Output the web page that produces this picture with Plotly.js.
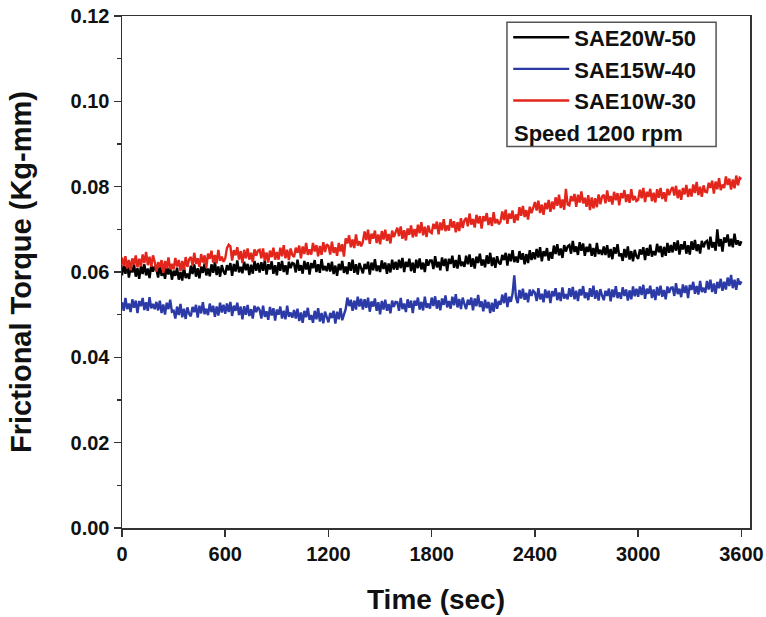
<!DOCTYPE html>
<html>
<head>
<meta charset="utf-8">
<script src="https://cdn.plot.ly/plotly-3.0.1.min.js"></script>
<style>html,body{margin:0;padding:0;background:#fff;}#chart{width:766px;height:617px;}</style>
</head>
<body>
<div id="chart"></div>
<script>
// Sample times (sec), every 10 s
const timeSec = [
0,10,20,30,40,50,60,70,80,90,100,110,120,130,140,150,160,170,180,190,
200,210,220,230,240,250,260,270,280,290,300,310,320,330,340,350,360,370,380,390,
400,410,420,430,440,450,460,470,480,490,500,510,520,530,540,550,560,570,580,590,
600,610,620,630,640,650,660,670,680,690,700,710,720,730,740,750,760,770,780,790,
800,810,820,830,840,850,860,870,880,890,900,910,920,930,940,950,960,970,980,990,
1000,1010,1020,1030,1040,1050,1060,1070,1080,1090,1100,1110,1120,1130,1140,1150,1160,1170,1180,1190,
1200,1210,1220,1230,1240,1250,1260,1270,1280,1290,1300,1310,1320,1330,1340,1350,1360,1370,1380,1390,
1400,1410,1420,1430,1440,1450,1460,1470,1480,1490,1500,1510,1520,1530,1540,1550,1560,1570,1580,1590,
1600,1610,1620,1630,1640,1650,1660,1670,1680,1690,1700,1710,1720,1730,1740,1750,1760,1770,1780,1790,
1800,1810,1820,1830,1840,1850,1860,1870,1880,1890,1900,1910,1920,1930,1940,1950,1960,1970,1980,1990,
2000,2010,2020,2030,2040,2050,2060,2070,2080,2090,2100,2110,2120,2130,2140,2150,2160,2170,2180,2190,
2200,2210,2220,2230,2240,2250,2260,2270,2280,2290,2300,2310,2320,2330,2340,2350,2360,2370,2380,2390,
2400,2410,2420,2430,2440,2450,2460,2470,2480,2490,2500,2510,2520,2530,2540,2550,2560,2570,2580,2590,
2600,2610,2620,2630,2640,2650,2660,2670,2680,2690,2700,2710,2720,2730,2740,2750,2760,2770,2780,2790,
2800,2810,2820,2830,2840,2850,2860,2870,2880,2890,2900,2910,2920,2930,2940,2950,2960,2970,2980,2990,
3000,3010,3020,3030,3040,3050,3060,3070,3080,3090,3100,3110,3120,3130,3140,3150,3160,3170,3180,3190,
3200,3210,3220,3230,3240,3250,3260,3270,3280,3290,3300,3310,3320,3330,3340,3350,3360,3370,3380,3390,
3400,3410,3420,3430,3440,3450,3460,3470,3480,3490,3500,3510,3520,3530,3540,3550,3560,3570,3580,3590,
3600];

// SAE20W-50 (black)
const sae20w50 = [
0.0592,0.0616,0.0596,0.0620,0.0587,0.0611,0.0599,0.0618,0.0589,0.0609,0.0584,0.0615,0.0595,0.0618,0.0592,0.0608,0.0586,0.0616,0.0601,0.0613,
0.0607,0.0587,0.0617,0.0591,0.0604,0.0584,0.0614,0.0594,0.0611,0.0582,0.0603,0.0591,0.0610,0.0582,0.0600,0.0580,0.0612,0.0586,0.0596,0.0584,
0.0615,0.0595,0.0618,0.0589,0.0609,0.0585,0.0613,0.0598,0.0620,0.0592,0.0608,0.0590,0.0618,0.0598,0.0624,0.0593,0.0613,0.0589,0.0616,0.0601,
0.0594,0.0616,0.0604,0.0621,0.0591,0.0619,0.0601,0.0627,0.0599,0.0612,0.0597,0.0624,0.0604,0.0619,0.0593,0.0617,0.0596,0.0626,0.0603,0.0621,
0.0599,0.0623,0.0603,0.0627,0.0594,0.0618,0.0606,0.0625,0.0596,0.0616,0.0592,0.0623,0.0603,0.0626,0.0600,0.0616,0.0594,0.0624,0.0609,0.0621,
0.0619,0.0599,0.0629,0.0603,0.0616,0.0596,0.0626,0.0606,0.0623,0.0594,0.0621,0.0609,0.0628,0.0600,0.0618,0.0598,0.0630,0.0604,0.0614,0.0602,
0.0621,0.0601,0.0624,0.0595,0.0615,0.0591,0.0619,0.0604,0.0626,0.0598,0.0613,0.0595,0.0623,0.0603,0.0629,0.0598,0.0618,0.0594,0.0621,0.0606,
0.0597,0.0619,0.0607,0.0624,0.0594,0.0622,0.0604,0.0630,0.0602,0.0615,0.0600,0.0627,0.0607,0.0622,0.0596,0.0620,0.0599,0.0629,0.0606,0.0624,
0.0605,0.0629,0.0609,0.0633,0.0600,0.0624,0.0612,0.0631,0.0602,0.0622,0.0598,0.0629,0.0609,0.0632,0.0606,0.0622,0.0600,0.0630,0.0615,0.0627,
0.0627,0.0607,0.0637,0.0611,0.0624,0.0604,0.0634,0.0614,0.0631,0.0602,0.0631,0.0619,0.0638,0.0610,0.0628,0.0608,0.0640,0.0614,0.0624,0.0612,
0.0638,0.0618,0.0641,0.0612,0.0632,0.0608,0.0636,0.0621,0.0643,0.0615,0.0629,0.0611,0.0639,0.0619,0.0645,0.0614,0.0634,0.0610,0.0637,0.0622,
0.0618,0.0640,0.0628,0.0645,0.0615,0.0643,0.0625,0.0651,0.0623,0.0636,0.0622,0.0649,0.0629,0.0644,0.0618,0.0642,0.0621,0.0651,0.0628,0.0646,
0.0630,0.0654,0.0634,0.0658,0.0625,0.0649,0.0637,0.0656,0.0627,0.0647,0.0631,0.0662,0.0642,0.0665,0.0639,0.0655,0.0633,0.0663,0.0648,0.0660,
0.0663,0.0643,0.0673,0.0647,0.0660,0.0640,0.0670,0.0650,0.0667,0.0638,0.0659,0.0647,0.0666,0.0638,0.0656,0.0636,0.0668,0.0642,0.0652,0.0640,
0.0660,0.0640,0.0663,0.0634,0.0654,0.0630,0.0658,0.0643,0.0665,0.0637,0.0644,0.0626,0.0654,0.0634,0.0660,0.0629,0.0649,0.0625,0.0652,0.0637,
0.0631,0.0653,0.0641,0.0658,0.0628,0.0656,0.0638,0.0664,0.0636,0.0649,0.0639,0.0666,0.0646,0.0661,0.0635,0.0659,0.0638,0.0668,0.0645,0.0663,
0.0646,0.0670,0.0650,0.0674,0.0641,0.0665,0.0653,0.0672,0.0643,0.0663,0.0641,0.0672,0.0652,0.0675,0.0649,0.0665,0.0643,0.0673,0.0658,0.0670,
0.0673,0.0653,0.0683,0.0657,0.0670,0.0650,0.0700,0.0660,0.0677,0.0648,0.0681,0.0669,0.0688,0.0660,0.0678,0.0658,0.0690,0.0664,0.0674,0.0662,
0.0672];

// SAE15W-40 (blue)
const sae15w40 = [
0.0529,0.0509,0.0539,0.0513,0.0526,0.0506,0.0536,0.0516,0.0533,0.0504,0.0532,0.0520,0.0539,0.0511,0.0529,0.0509,0.0541,0.0515,0.0525,0.0513,
0.0530,0.0510,0.0533,0.0504,0.0524,0.0500,0.0528,0.0513,0.0535,0.0507,0.0509,0.0491,0.0519,0.0499,0.0525,0.0494,0.0514,0.0490,0.0517,0.0502,
0.0496,0.0518,0.0506,0.0523,0.0493,0.0521,0.0503,0.0529,0.0501,0.0514,0.0499,0.0526,0.0506,0.0521,0.0495,0.0519,0.0498,0.0528,0.0505,0.0523,
0.0502,0.0526,0.0506,0.0530,0.0497,0.0521,0.0509,0.0528,0.0499,0.0519,0.0489,0.0520,0.0500,0.0523,0.0497,0.0513,0.0491,0.0521,0.0506,0.0518,
0.0511,0.0491,0.0521,0.0495,0.0508,0.0488,0.0518,0.0498,0.0515,0.0486,0.0512,0.0500,0.0519,0.0491,0.0509,0.0489,0.0521,0.0495,0.0505,0.0493,
0.0511,0.0491,0.0514,0.0485,0.0505,0.0481,0.0509,0.0494,0.0516,0.0488,0.0499,0.0481,0.0509,0.0489,0.0515,0.0484,0.0504,0.0480,0.0507,0.0492,
0.0482,0.0504,0.0492,0.0509,0.0479,0.0507,0.0489,0.0515,0.0487,0.0500,0.0513,0.0540,0.0520,0.0535,0.0509,0.0533,0.0512,0.0542,0.0519,0.0537,
0.0512,0.0536,0.0516,0.0540,0.0507,0.0531,0.0519,0.0538,0.0509,0.0529,0.0501,0.0532,0.0512,0.0535,0.0509,0.0525,0.0503,0.0533,0.0518,0.0530,
0.0529,0.0509,0.0539,0.0513,0.0526,0.0506,0.0536,0.0516,0.0533,0.0504,0.0533,0.0521,0.0540,0.0512,0.0530,0.0510,0.0542,0.0516,0.0526,0.0514,
0.0540,0.0520,0.0543,0.0514,0.0534,0.0510,0.0538,0.0523,0.0545,0.0517,0.0532,0.0514,0.0542,0.0522,0.0548,0.0517,0.0537,0.0513,0.0540,0.0525,
0.0513,0.0535,0.0523,0.0540,0.0510,0.0538,0.0520,0.0546,0.0518,0.0531,0.0508,0.0535,0.0515,0.0530,0.0504,0.0528,0.0507,0.0537,0.0514,0.0532,
0.0523,0.0547,0.0527,0.0551,0.0518,0.0542,0.0530,0.0549,0.0592,0.0540,0.0527,0.0558,0.0538,0.0561,0.0535,0.0551,0.0529,0.0559,0.0544,0.0556,
0.0552,0.0532,0.0562,0.0536,0.0549,0.0529,0.0559,0.0539,0.0556,0.0527,0.0555,0.0543,0.0562,0.0534,0.0552,0.0532,0.0564,0.0538,0.0548,0.0536,
0.0562,0.0542,0.0565,0.0536,0.0556,0.0532,0.0560,0.0545,0.0567,0.0539,0.0552,0.0534,0.0562,0.0542,0.0568,0.0537,0.0557,0.0533,0.0560,0.0545,
0.0534,0.0556,0.0544,0.0561,0.0531,0.0559,0.0541,0.0567,0.0539,0.0552,0.0537,0.0564,0.0544,0.0559,0.0533,0.0557,0.0536,0.0566,0.0543,0.0561,
0.0542,0.0566,0.0546,0.0570,0.0537,0.0561,0.0549,0.0568,0.0539,0.0559,0.0534,0.0565,0.0545,0.0568,0.0542,0.0558,0.0536,0.0566,0.0551,0.0563,
0.0564,0.0544,0.0574,0.0548,0.0561,0.0541,0.0571,0.0551,0.0568,0.0539,0.0570,0.0558,0.0577,0.0549,0.0567,0.0547,0.0579,0.0553,0.0563,0.0551,
0.0579,0.0559,0.0582,0.0553,0.0573,0.0549,0.0577,0.0562,0.0584,0.0556,0.0577,0.0559,0.0587,0.0567,0.0593,0.0562,0.0582,0.0558,0.0585,0.0570,
0.0578];

// SAE10W-30 (red)
const sae10w30 = [
0.0634,0.0614,0.0637,0.0608,0.0628,0.0604,0.0632,0.0617,0.0639,0.0611,0.0631,0.0613,0.0641,0.0621,0.0647,0.0616,0.0636,0.0612,0.0639,0.0624,
0.0601,0.0623,0.0611,0.0628,0.0598,0.0626,0.0608,0.0634,0.0606,0.0619,0.0606,0.0633,0.0613,0.0628,0.0602,0.0626,0.0605,0.0635,0.0612,0.0630,
0.0635,0.0615,0.0645,0.0619,0.0632,0.0612,0.0642,0.0622,0.0639,0.0610,0.0643,0.0631,0.0650,0.0622,0.0640,0.0620,0.0652,0.0626,0.0636,0.0624,
0.0632,0.0656,0.0664,0.0660,0.0627,0.0651,0.0639,0.0658,0.0629,0.0649,0.0621,0.0652,0.0632,0.0655,0.0629,0.0645,0.0623,0.0653,0.0638,0.0650,
0.0652,0.0632,0.0655,0.0626,0.0646,0.0622,0.0650,0.0635,0.0657,0.0629,0.0647,0.0629,0.0657,0.0637,0.0663,0.0632,0.0652,0.0628,0.0655,0.0640,
0.0635,0.0657,0.0645,0.0662,0.0632,0.0660,0.0642,0.0668,0.0640,0.0653,0.0641,0.0668,0.0648,0.0663,0.0637,0.0661,0.0640,0.0670,0.0647,0.0665,
0.0661,0.0641,0.0671,0.0645,0.0658,0.0638,0.0668,0.0648,0.0665,0.0636,0.0679,0.0667,0.0686,0.0658,0.0676,0.0656,0.0688,0.0662,0.0672,0.0660,
0.0671,0.0695,0.0675,0.0699,0.0666,0.0690,0.0678,0.0697,0.0668,0.0688,0.0665,0.0696,0.0676,0.0699,0.0673,0.0689,0.0667,0.0697,0.0682,0.0694,
0.0704,0.0684,0.0707,0.0678,0.0698,0.0674,0.0702,0.0687,0.0709,0.0681,0.0701,0.0683,0.0711,0.0691,0.0717,0.0686,0.0706,0.0682,0.0709,0.0694,
0.0691,0.0713,0.0701,0.0718,0.0688,0.0716,0.0698,0.0724,0.0696,0.0709,0.0697,0.0724,0.0704,0.0719,0.0693,0.0717,0.0696,0.0726,0.0703,0.0721,
0.0727,0.0707,0.0737,0.0711,0.0724,0.0704,0.0734,0.0714,0.0731,0.0702,0.0731,0.0719,0.0738,0.0710,0.0728,0.0708,0.0740,0.0714,0.0724,0.0712,
0.0718,0.0742,0.0722,0.0746,0.0713,0.0737,0.0725,0.0744,0.0715,0.0735,0.0721,0.0752,0.0732,0.0755,0.0729,0.0745,0.0723,0.0753,0.0738,0.0750,
0.0764,0.0744,0.0767,0.0738,0.0758,0.0734,0.0762,0.0747,0.0769,0.0741,0.0765,0.0747,0.0775,0.0755,0.0781,0.0750,0.0770,0.0746,0.0795,0.0758,
0.0756,0.0778,0.0766,0.0783,0.0753,0.0781,0.0763,0.0789,0.0761,0.0774,0.0753,0.0780,0.0745,0.0775,0.0749,0.0773,0.0752,0.0782,0.0759,0.0777,
0.0781,0.0761,0.0791,0.0765,0.0778,0.0758,0.0788,0.0768,0.0785,0.0756,0.0785,0.0773,0.0792,0.0764,0.0782,0.0762,0.0794,0.0768,0.0778,0.0766,
0.0769,0.0793,0.0773,0.0797,0.0764,0.0788,0.0776,0.0795,0.0766,0.0786,0.0763,0.0794,0.0774,0.0797,0.0771,0.0787,0.0765,0.0795,0.0780,0.0792,
0.0799,0.0779,0.0802,0.0773,0.0793,0.0769,0.0797,0.0782,0.0804,0.0776,0.0795,0.0777,0.0805,0.0785,0.0811,0.0780,0.0800,0.0776,0.0803,0.0788,
0.0787,0.0809,0.0797,0.0814,0.0784,0.0812,0.0794,0.0820,0.0792,0.0805,0.0797,0.0824,0.0804,0.0819,0.0793,0.0817,0.0796,0.0826,0.0803,0.0821,
0.0818];

const seriesNames = ['SAE20W-50', 'SAE15W-40', 'SAE10W-30'];
const xTickVals = [0, 600, 1200, 1800, 2400, 3000, 3600];
const yTickVals = [0.00, 0.02, 0.04, 0.06, 0.08, 0.10, 0.12];
const noteText = 'Speed 1200 rpm';

const FONT = 'Liberation Sans, Arial, sans-serif';
const colors = ['#000000', '#2b3aa6', '#e3261b'];
const ys = [sae20w50, sae15w40, sae10w30];

const traces = ys.map((y, i) => ({
  type: 'scatter', mode: 'lines', x: timeSec, y: y, name: seriesNames[i],
  line: {color: colors[i], width: 2.4}
}));

const axisCommon = {
  showline: true, linecolor: '#333', linewidth: 1.5, mirror: true,
  ticks: 'outside', ticklen: 7, tickwidth: 1.5, tickcolor: '#333',
  showgrid: false, zeroline: false,
  tickfont: {family: FONT, size: 20, color: '#111', weight: 'bold'}
};

const layout = {
  width: 766, height: 617,
  margin: {l: 122, r: 16, t: 16, b: 89},
  paper_bgcolor: '#fff', plot_bgcolor: '#fff',
  showlegend: true,
  xaxis: Object.assign({}, axisCommon, {
    range: [0, 3650], tickvals: xTickVals, ticktext: xTickVals.map(String),
    title: {text: 'Time (sec)', font: {family: FONT, size: 28, color: '#111', weight: 'bold'}, standoff: 26}
  }),
  yaxis: Object.assign({}, axisCommon, {
    range: [0, 0.12], tickvals: yTickVals, ticktext: yTickVals.map(v => v.toFixed(2)),
    minor: {ticks: 'outside', ticklen: 4, tickwidth: 1.5, tickcolor: '#333', dtick: 0.01, tick0: 0},
    title: {text: 'Frictional Torque (Kg-mm)', font: {family: FONT, size: 29, color: '#111', weight: 'bold'}, standoff: 30}
  }),
  legend: {
    x: 0.615, y: 0.999, xanchor: 'left', yanchor: 'top',
    bgcolor: 'rgba(0,0,0,0)', borderwidth: 0, itemwidth: 56,
    font: {family: FONT, size: 22, color: '#111', weight: 'bold'},
    tracegroupgap: 0
  },
  shapes: [{
    type: 'rect', xref: 'paper', yref: 'paper',
    x0: 0.613, x1: 0.946, y0: 0.745, y1: 0.988,
    line: {color: '#555', width: 1.5}, fillcolor: 'rgba(0,0,0,0)'
  }],
  annotations: [{
    xref: 'paper', yref: 'paper', x: 0.621, y: 0.771, xanchor: 'left', yanchor: 'middle',
    text: noteText, showarrow: false,
    font: {family: FONT, size: 22, color: '#111', weight: 'bold'}
  }]
};

Plotly.newPlot('chart', traces, layout, {staticPlot: true, displayModeBar: false});
</script>
</body>
</html>
